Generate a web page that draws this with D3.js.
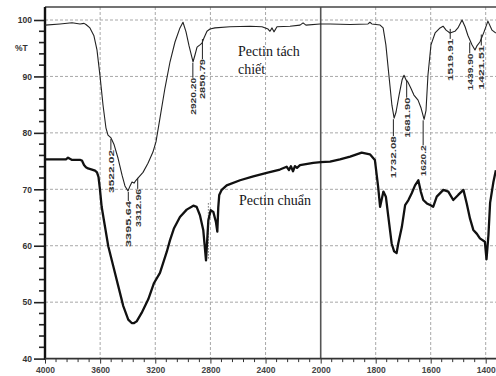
<!DOCTYPE html>
<html><head><meta charset="utf-8">
<script src="https://cdn.jsdelivr.net/npm/d3@7"></script>
<style>html,body{margin:0;padding:0;background:#fff;overflow:hidden}svg{display:block}</style>
</head><body><svg id="c" width="496" height="376"></svg>
<script>
// ---- data ----
const xTicks = [4000, 3600, 3200, 2800, 2400, 2000, 1800, 1600, 1400];
const yTicks = [40, 50, 60, 70, 80, 90, 100];
const seriesNames = ["Pectin tách chiết", "Pectin chuẩn"];

const extractedWn = [4000,3891,3804,3746,3717,3703,3674,3645,3623,3601,3579,3558,3543,3521,3500,3470,3441,3420,3398,3383,3369,3354,3340,3318,3289,3253,3217,3195,3166,3130,3093,3057,3021,2999,2977,2955,2926,2912,2897,2876,2861,2847,2825,2803,2767,2658,2513,2426,2382,2368,2353,2339,2317,2223,2150,2128,2107,2005,
  1966,1893,1828,1821,1814,1784,1773,1763,1752,1741,1733,1726,1715,1704,1697,1690,1683,1672,1661,1646,1635,1624,1617,1610,1599,1584,1566,1555,1544,1530,1512,1501,1486,1475,1465,1450,1439,1432,1421,1406,1392,1377,1363];
const extractedT = [99.1,99.3,99.5,99.3,99.4,99.2,98.6,97.2,94.7,90.1,84.9,80.9,79.6,79.1,78.0,75.5,72.5,70.6,69.7,70.6,71.3,71.1,71.6,72.2,73.0,74.6,76.6,78.4,82.6,87.9,92.6,96.1,98.6,99.6,97.9,95.4,92.6,93.8,95.2,95.6,95.9,96.8,98.0,98.4,98.6,98.8,98.9,98.8,98.4,98.0,98.6,97.9,98.8,98.9,99.1,99.5,99.1,99.3,
  99.3,99.2,99.3,99.6,99.3,99.1,98.6,95.6,90.2,84.9,82.6,83.7,86.7,89.4,90.2,89.4,89.0,87.9,86.7,85.8,84.4,82.4,84.0,90.2,95.6,97.7,98.6,98.9,98.2,97.7,98.0,98.6,100.0,98.8,97.3,95.6,94.7,95.4,96.1,97.9,99.8,98.2,97.7];

const standardWn = [4000,3891,3848,3833,3819,3804,3746,3732,3717,3703,3688,3659,3637,3623,3612,3601,3589,3565,3541,3505,3468,3432,3396,3371,3354,3335,3299,3251,3209,3166,3117,3093,3064,3021,2972,2924,2900,2876,2852,2832,2815,2798,2779,2760,2750,2743,2736,2718,2682,2585,2489,2392,2296,2247,2230,2216,2201,2187,2172,2150,2054,2000,
  1966,1930,1893,1851,1821,1803,1791,1784,1772,1763,1754,1742,1733,1724,1718,1705,1693,1681,1669,1657,1645,1636,1627,1614,1602,1591,1578,1554,1536,1518,1500,1481,1469,1457,1445,1432,1421,1403,1397,1390,1384,1372,1363];
const standardT = [75.3,75.3,75.3,75.6,75.4,75.2,75.2,75.1,74.3,73.9,73.7,73.5,73.3,73.0,72.2,69.9,66.9,63.4,59.9,56.4,52.8,49.3,46.9,46.3,46.3,46.6,48.1,50.5,53.4,55.2,58.9,61.0,63.1,65.1,66.4,67.1,66.9,65.4,62.8,57.4,64.5,66.3,66.0,64.2,62.5,66.8,69.0,69.9,70.7,71.6,72.3,72.9,73.5,74.0,73.4,74.1,73.2,74.1,73.8,74.3,74.7,74.8,
  74.9,75.3,75.8,76.5,76.2,75.2,70.4,66.9,69.6,68.7,65.1,60.4,59.0,58.7,60.4,63.3,67.2,68.1,69.3,70.7,71.6,69.6,68.1,67.5,67.2,66.9,68.7,69.9,69.6,68.1,69.0,69.9,67.5,64.8,62.8,62.1,61.3,60.7,57.6,61.9,67.6,71.3,73.4];

const peakLabels = ["3522.02","3395.64","3312.96","2920.20","2850.79","1732.08","1681.90","1620.2","1519.91","1439.90","1421.51"];
const peakWn = [3522.02, 3395.64, 3312.96, 2920.20, 2850.79, 1732.08, 1681.90, 1620.2, 1519.91, 1439.90, 1421.51];
const peakCurveT = [79.1, 69.7, 72.2, 92.6, 96.8, 82.6, 89.6, 82.4, 98.6, 96.2, 97.6];

// ---- layout ----
const W = 496, H = 376;
const svg = d3.select("#c");
const x = d3.scaleLinear().domain([4000, 2000, 1400]).range([45, 320.7, 485.7]);
const y = d3.scaleLinear().domain([40, 100]).range([358.6, 20]);
const plotTop = 7, plotBottom = y(40), plotLeft = 45;

svg.append("defs").append("clipPath").attr("id","clip")
  .append("rect").attr("x", plotLeft).attr("y", plotTop).attr("width", W - plotLeft).attr("height", plotBottom - plotTop);

// grid
const g = svg.append("g");
g.selectAll("line.vg").data(xTicks.filter(d => d !== 2000 && d !== 4000)).enter().append("line")
  .attr("x1", d => x(d)).attr("x2", d => x(d)).attr("y1", plotTop).attr("y2", plotBottom)
  .attr("stroke", "#a8a8a8").attr("stroke-width", 1).attr("stroke-dasharray", "3,2");
g.selectAll("line.hg").data(yTicks.filter(d => d !== 40)).enter().append("line")
  .attr("x1", plotLeft).attr("x2", W).attr("y1", d => y(d)).attr("y2", d => y(d))
  .attr("stroke", "#a8a8a8").attr("stroke-width", 1).attr("stroke-dasharray", "3,2");
// scale-break line at 2000
g.append("line").attr("x1", x(2000)).attr("x2", x(2000)).attr("y1", plotTop).attr("y2", plotBottom)
  .attr("stroke", "#555").attr("stroke-width", 1.6);
// top frame
g.append("line").attr("x1", plotLeft).attr("x2", W).attr("y1", plotTop).attr("y2", plotTop)
  .attr("stroke", "#444").attr("stroke-width", 1.6);

// y axis
const yAxis = d3.axisLeft(y).tickValues(yTicks).tickSize(11).tickFormat(d3.format("d"));
const ya = svg.append("g").attr("transform", `translate(${plotLeft},0)`).call(yAxis);
ya.select(".domain").remove();
ya.selectAll(".tick line").attr("stroke", "#222").attr("stroke-width", 1.6);
ya.selectAll(".tick text").attr("font-family", "Liberation Sans, Arial, sans-serif").attr("font-size", 8.5)
  .attr("font-weight", "bold").attr("fill", "#333").attr("x", -13);
const yMinor = d3.range(40, 100.01, 2).filter(v => v % 10 !== 0);
svg.append("g").selectAll("line").data(yMinor).enter().append("line")
  .attr("x1", plotLeft - 6).attr("x2", plotLeft).attr("y1", d => y(d)).attr("y2", d => y(d))
  .attr("stroke", "#222").attr("stroke-width", 1.6);
svg.append("line").attr("x1", plotLeft).attr("x2", plotLeft).attr("y1", plotTop).attr("y2", plotBottom + 1)
  .attr("stroke", "#111").attr("stroke-width", 2.4);
svg.append("text").attr("x", 15).attr("y", 51).text("%T")
  .attr("font-family", "Liberation Sans, Arial, sans-serif").attr("font-size", 8.5).attr("font-weight", "bold").attr("fill", "#333");

// x axis
const xAxis = d3.axisBottom(x).tickValues(xTicks).tickSize(5).tickFormat(d3.format("d"));
const xa = svg.append("g").attr("transform", `translate(0,${plotBottom})`).call(xAxis);
xa.select(".domain").remove();
xa.selectAll(".tick line").attr("stroke", "#333").attr("stroke-width", 1);
xa.selectAll(".tick text").attr("font-family", "Liberation Sans, Arial, sans-serif").attr("font-size", 8.5)
  .attr("font-weight", "bold").attr("fill", "#444").attr("y", 8);
const xMinor = d3.range(4000, 2000, -80).concat(d3.range(2000, 1340, -40)).filter(v => !xTicks.includes(v));
svg.append("g").selectAll("line").data(xMinor).enter().append("line")
  .attr("x1", d => x(d)).attr("x2", d => x(d)).attr("y1", plotBottom).attr("y2", plotBottom + 3.5)
  .attr("stroke", "#333").attr("stroke-width", 1);
svg.append("line").attr("x1", plotLeft).attr("x2", W).attr("y1", plotBottom).attr("y2", plotBottom)
  .attr("stroke", "#333").attr("stroke-width", 1.6);

// curves
const line = d3.line().x(d => x(d[0])).y(d => y(d[1]));
const plot = svg.append("g").attr("clip-path", "url(#clip)");
plot.append("path").datum(d3.zip(standardWn, standardT)).attr("d", line)
  .attr("fill", "none").attr("stroke", "#111").attr("stroke-width", 2.3).attr("stroke-linejoin", "round");
plot.append("path").datum(d3.zip(extractedWn, extractedT)).attr("d", line)
  .attr("fill", "none").attr("stroke", "#222").attr("stroke-width", 1.1).attr("stroke-linejoin", "round");

// dotted markers on standard curve
plot.append("line").attr("x1", x(2815)).attr("x2", x(2815)).attr("y1", y(67.5)).attr("y2", y(57.5))
  .attr("stroke", "#222").attr("stroke-width", 1).attr("stroke-dasharray", "1,2");

// peak labels
const gapPx = [11, 9, 11, 15, 20, 17, 18, 25, 10, 11, 11];
const lenPx = [43, 46, 38, 37, 40, 42, 40, 31, 42, 37, 44];
const shiftPx = [0, 0, -2, -1, -1, -1, -1.5, -2, -2.5, -5, 1.5];
const pk = svg.append("g");
peakLabels.forEach((lab, i) => {
  const px = x(peakWn[i]) + shiftPx[i];
  const y0 = y(peakCurveT[i]) + 1;
  const y1 = y0 + gapPx[i];
  pk.append("line").attr("x1", px).attr("x2", px).attr("y1", y0).attr("y2", y1)
    .attr("stroke", "#222").attr("stroke-width", 1);
  pk.append("text").attr("transform", `translate(${px + 3},${y1}) rotate(-90)`)
    .attr("text-anchor", "end").attr("font-family", "Liberation Sans Narrow, Liberation Sans, Arial, sans-serif")
    .attr("font-size", 8).attr("font-weight", "bold").attr("fill", "#333")
    .attr("textLength", lenPx[i]).attr("lengthAdjust", "spacingAndGlyphs").text(lab);
});

// series names
const nameFont = "Liberation Serif, Times New Roman, serif";
svg.append("text").attr("x", 238).attr("y", 56).text("Pectin tách")
  .attr("font-family", nameFont).attr("font-size", 14).attr("fill", "#151520");
svg.append("text").attr("x", 238).attr("y", 74).text("chiết")
  .attr("font-family", nameFont).attr("font-size", 14).attr("fill", "#151520");
svg.append("text").attr("x", 239).attr("y", 205).text(seriesNames[1])
  .attr("font-family", nameFont).attr("font-size", 14).attr("fill", "#151520");
</script></body></html>
